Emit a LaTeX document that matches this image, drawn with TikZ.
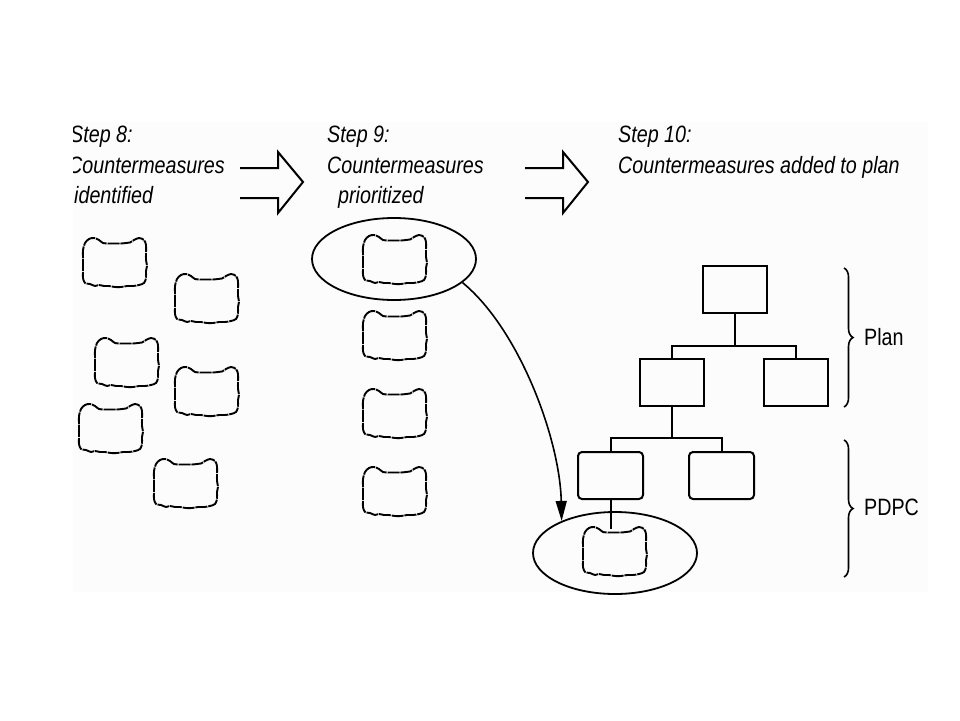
\documentclass[tikz,border=0pt]{standalone}
\usepackage{fontspec}
\setmainfont{Liberation Sans}
\usepackage{graphicx}
\usetikzlibrary{shapes.geometric,arrows.meta,decorations.pathreplacing}
\definecolor{panel}{HTML}{FCFCFC}
\newcommand\tallt[1]{\scalebox{1}[1.2]{#1}}
\newcommand\cloudnode[2]{%
  \node[cloudbox] (#1) at (#2) {};
  \begin{scope}[shift={(#2)}]
  \draw[cloudline] plot[smooth cycle, tension=0.55] coordinates {
    (-32,-13) (-30,-20) (-26,-24) (-21,-25) (-16,-23) (-12,-20) (-6,-19.5) (0,-19.5) (6,-19.5)
    (11,-20) (15,-20.5) (19,-23) (24,-25) (29,-23) (31,-18)
    (31,-10) (31,-3) (32,3) (31,8) (31,15) (29,20)
    (24,22) (18,23) (12,23) (6,24) (0,24) (-6,23) (-11,23) (-16,22) (-20,23)
    (-25,21) (-30,20) (-32,15) (-32,9) (-32,1) (-32,-6)};
  \end{scope}}
\begin{document}
\begin{tikzpicture}[x=1pt,y=-1pt,
 lbl/.style={anchor=base west, inner sep=0pt, font=\fontsize{19.7}{24}\selectfont\itshape},
 side/.style={anchor=base west, inner sep=0pt, font=\fontsize{19.7}{24}\selectfont},
 cloudbox/.style={minimum width=64pt, minimum height=46pt, inner sep=0pt},
 cloudline/.style={line width=1.9pt, dash pattern=on 12pt off 0.9pt, line join=round},
 plainbox/.style={draw, line width=2pt, rectangle, minimum width=64pt, minimum height=47pt, inner sep=0pt},
 pdpcbox/.style={draw, line width=2pt, rectangle, rounded corners=4pt, minimum width=65pt, minimum height=47pt, inner sep=0pt},
 oval/.style={draw, ellipse, line width=1.8pt, minimum width=164pt, minimum height=82pt, inner sep=0pt},
 hollow/.style={line width=2pt, line join=miter},
 tie/.style={line width=2pt},
 bracedeco/.style={decorate, decoration={brace, amplitude=9pt}, line width=1.6pt}
]
\useasboundingbox (0,0) rectangle (960,720);
\fill[panel] (73,122) rectangle (928,592);

% step texts
\begin{scope}
\clip (73,100) rectangle (330,230);
\node[lbl] (s8a) at (70,142) {\tallt{Step 8:}};
\node[lbl] (s8b) at (68,173) {\tallt{Countermeasures}};
\node[lbl] (s8c) at (74,203) {\tallt{identified}};
\end{scope}
\node[lbl] (s9a) at (327,142) {\tallt{Step 9:}};
\node[lbl] (s9b) at (327,173) {\tallt{Countermeasures}};
\node[lbl] (s9c) at (338,203) {\tallt{prioritized}};
\node[lbl] (s10a) at (618,142) {\tallt{Step 10:}};
\node[lbl] (s10b) at (618,173) {\tallt{Countermeasures added to plan}};

% hollow arrows
\draw[hollow] (240,168) -- (278,168) -- (278,152) -- (303,182) -- (278,213) -- (278,198) -- (240,198);
\draw[hollow] (525,168) -- (563,168) -- (563,152) -- (588,182) -- (563,213) -- (563,198) -- (525,198);

% clouds, step 8
\cloudnode{c1}{115,263}
\cloudnode{c2}{207,299}
\cloudnode{c3}{127,363}
\cloudnode{c4}{207,392}
\cloudnode{c5}{111,429}
\cloudnode{c6}{186,484}

% clouds, step 9
\node[oval] (e1) at (394,259) {};
\cloudnode{d1}{395,260}
\cloudnode{d2}{395,336}
\cloudnode{d3}{395,414}
\cloudnode{d4}{395,492}

% plan tree
\node[plainbox] (p0) at (734.5,289) {};
\node[plainbox] (p1) at (672,382.5) {};
\node[plainbox] (p2) at (796,382.5) {};
\node[pdpcbox] (q1) at (610.5,475.5) {};
\node[pdpcbox] (q2) at (721.5,475.5) {};
\node[oval] (e2) at (615,553) {};
\cloudnode{qc}{615,552}
\coordinate (j0) at (734.5,346);
\coordinate (j1) at (672,438);
\draw[tie] (p0.south) -- (j0);
\draw[tie] (p1.north) |- (j0) -| (p2.north);
\draw[tie] (p1.south) -- (j1);
\draw[tie] (q1.north) |- (j1) -| (q2.north);
\draw[tie] (q1.south) -- (q1.south |- qc.north);

% curved arrow
\draw[line width=1.6pt, -{Triangle[length=20pt,width=11pt]}] (e1.-19) .. controls (520,330) and (560,440) .. (e2.149);

% braces
\coordinate (b1t) at (844,268);
\coordinate (b1b) at (844,407);
\coordinate (b2t) at (844,440);
\coordinate (b2b) at (844,577);
\draw[bracedeco] (b1t) -- (b1b);
\draw[bracedeco] (b2t) -- (b2b);
\node[side] (plan) at (864,345) {\tallt{Plan}};
\node[side] (pdpc) at (864,515) {\tallt{PDPC}};
\end{tikzpicture}
\end{document}
